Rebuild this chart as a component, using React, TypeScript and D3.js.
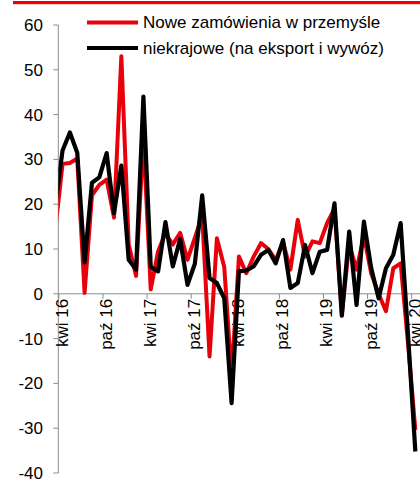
import React from "react";
import * as d3 from "d3";

// Monthly data, index 0 = Mar 2016 ... index 49 = Apr 2020
const redSeries: number[] = [
  14, 29, 29.2, 30.2, 0.2, 22, 24.3, 25.5, 17, 53,
  11, 4, 35, 1, 9.5, 13.5, 11, 13.6, 7.6, 12.5,
  17.5, -14, 12.4, 6, -18.5, 8.3, 4.6, 8.3, 11.3, 10,
  7.5, 11.5, 5.4, 16.5, 8.3, 11.7, 11.3, 15.8, 19, -4.5,
  11, 5.4, 13, 4.5, 0, -3.9, 5.7, 6.8, -11, -30.4,
];
const blackSeries: number[] = [
  19.5, 32, 36, 31.5, 7, 24.8, 26, 31.4, 18, 28.6,
  7.6, 5.4, 44, 6, 5, 16, 6.1, 12.2, 2, 6.7,
  22, 3.5, 2.4, -1, -24.4, 5, 5.2, 6.1, 8.7, 9.8,
  6.8, 12, 1.3, 2.4, 10.9, 4.6, 9.4, 9.8, 20.2, -4.9,
  13.9, -2.5, 16.1, 5.7, -1, 5.7, 8.7, 15.8, -9, -35.2,
];
const xTickLabels: string[] = [
  "kwi 16", "paź 16", "kwi 17", "paź 17", "kwi 18",
  "paź 18", "kwi 19", "paź 19", "kwi 20",
];
const yTicks: number[] = [-40, -30, -20, -10, 0, 10, 20, 30, 40, 50, 60];
const legendLabels: string[] = [
  "Nowe zamówienia w przemyśle",
  "niekrajowe (na eksport i wywóz)",
];

const RED = "#e8000a";
const BLACK = "#000000";
const AXIS = "#8c8c8c";
const FONT = "'Liberation Sans', Arial, sans-serif";
const FS = 17;

export default function App() {
  const W = 420;
  const H = 480;
  const axisX = 58.3;
  const x = d3.scaleLinear().domain([0, 49]).range([55.2, 415.35]);
  const y = d3.scaleLinear().domain([-40, 60]).range([473, 25]);

  const line = d3
    .line<number>()
    .x((_, i) => x(i))
    .y((d) => y(d));

  const tickIdx = xTickLabels.map((_, k) => 0.5 + 6 * k);

  return (
    <svg
      width={W}
      height={H}
      style={{ position: "absolute", left: 0, top: 0, background: "#fff" }}
      fontFamily={FONT}
    >
      <defs>
        <clipPath id="plotclip">
          <rect x={axisX} y={0} width={W - axisX} height={H} />
        </clipPath>
      </defs>
      <rect x={0} y={0} width={W} height={H} fill="#fff" />
      {/* top red bar */}
      <rect x={13} y={1} width={W - 13} height={3.2} fill={RED} />

      {/* y axis */}
      <line x1={axisX} x2={axisX} y1={y(60)} y2={y(-40)} stroke={AXIS} strokeWidth={1} />
      {yTicks.map((t) => (
        <g key={t}>
          <line x1={axisX - 5} x2={axisX} y1={y(t)} y2={y(t)} stroke={AXIS} strokeWidth={1} />
          <text x={43} y={y(t)} dy="0.35em" textAnchor="end" fontSize={FS} fill="#000">
            {t}
          </text>
        </g>
      ))}

      {/* x axis at 0 */}
      <line x1={axisX} x2={W} y1={y(0)} y2={y(0)} stroke={AXIS} strokeWidth={1} />
      {tickIdx.map((ti, k) => (
        <g key={k}>
          <line x1={x(ti)} x2={x(ti)} y1={y(0)} y2={y(0) + 5} stroke={AXIS} strokeWidth={1} />
          <text
            transform={`translate(${x(ti) + 3},${y(0) + 5}) rotate(-90)`}
            textAnchor="end"
            dy="0.35em"
            fontSize={FS}
            fill="#000"
          >
            {xTickLabels[k]}
          </text>
        </g>
      ))}

      {/* series */}
      <g clipPath="url(#plotclip)">
        <path d={line(redSeries) || ""} fill="none" stroke={RED} strokeWidth={4} strokeLinejoin="round" />
        <path d={line(blackSeries) || ""} fill="none" stroke={BLACK} strokeWidth={4.2} strokeLinejoin="round" />
      </g>

      {/* legend */}
      <line x1={87} x2={138} y1={22.5} y2={22.5} stroke={RED} strokeWidth={4} />
      <text x={143} y={22.5} dy="0.35em" fontSize={FS} fill="#000">
        {legendLabels[0]}
      </text>
      <line x1={87} x2={138} y1={48} y2={48} stroke={BLACK} strokeWidth={4.2} />
      <text x={143} y={48} dy="0.35em" fontSize={FS} fill="#000">
        {legendLabels[1]}
      </text>
    </svg>
  );
}
